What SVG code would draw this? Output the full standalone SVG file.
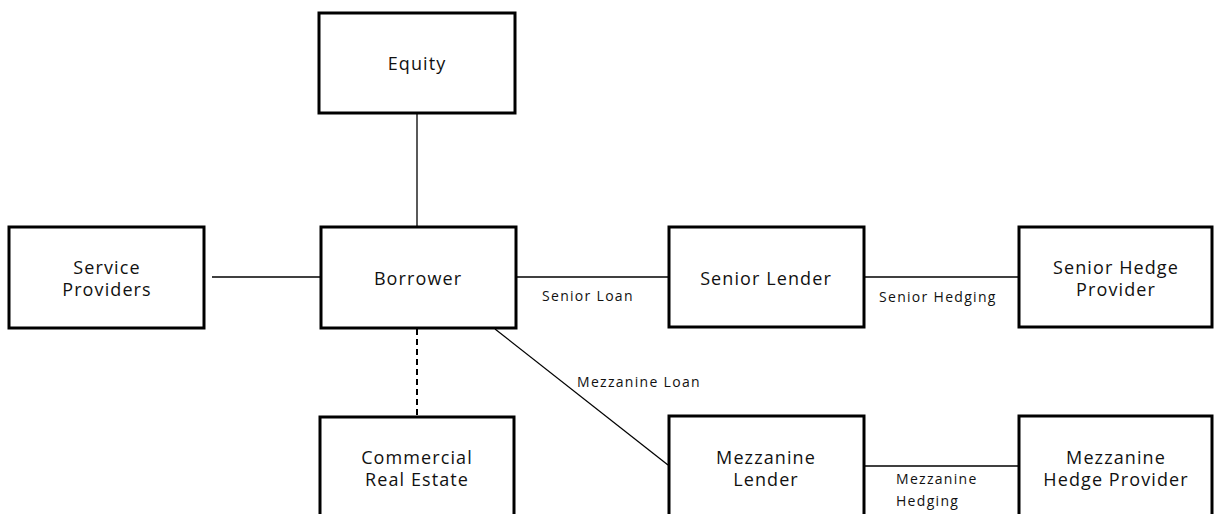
<svg xmlns="http://www.w3.org/2000/svg" width="1214" height="514" viewBox="0 0 1214 514">
<style>
.box{fill:#fff;stroke:#000;stroke-width:3}
.t{font-family:"Open Sans","Liberation Sans",sans-serif;font-size:18px;letter-spacing:1.1px;text-anchor:middle;fill:#111}
.l{font-family:"Open Sans","Liberation Sans",sans-serif;font-size:14px;letter-spacing:1.3px;fill:#111}
.c{stroke:#000;stroke-width:1.3;fill:none}
.d{stroke-dasharray:6,4;stroke-width:2}
</style>
<rect width="1214" height="514" fill="#fff"/>
<g id="connectors">
<line class="c" x1="417" y1="113" x2="417" y2="227"/>
<line class="c" x1="212" y1="277" x2="320" y2="277"/>
<line class="c" x1="516" y1="277" x2="669" y2="277"/>
<line class="c" x1="864" y1="277" x2="1019" y2="277"/>
<line class="c d" x1="417" y1="329" x2="417" y2="416"/>
<line class="c" x1="495" y1="329" x2="668" y2="465"/>
<line class="c" x1="865" y1="466" x2="1019" y2="466"/>
<text class="l" x="542" y="301">Senior Loan</text>
<text class="l" x="879" y="302">Senior Hedging</text>
<text class="l" x="577" y="387">Mezzanine Loan</text>
<text class="l" x="896" y="484">Mezzanine</text>
<text class="l" x="896" y="506">Hedging</text>
</g>
<g id="equity"><rect class="box" x="319" y="13" width="196" height="100"/><text class="t" x="417" y="70">Equity</text></g>
<g id="service-providers"><rect class="box" x="9" y="227" width="195" height="101"/><text class="t" x="107" y="274">Service</text><text class="t" x="107" y="296">Providers</text></g>
<g id="borrower"><rect class="box" x="321" y="227" width="195" height="101"/><text class="t" x="418" y="285">Borrower</text></g>
<g id="senior-lender"><rect class="box" x="669" y="227" width="195" height="100"/><text class="t" x="766" y="285">Senior Lender</text></g>
<g id="senior-hedge-provider"><rect class="box" x="1019" y="227" width="193" height="100"/><text class="t" x="1116" y="274">Senior Hedge</text><text class="t" x="1116" y="296">Provider</text></g>
<g id="commercial-real-estate"><rect class="box" x="320" y="417" width="194" height="110"/><text class="t" x="417" y="464">Commercial</text><text class="t" x="417" y="486">Real Estate</text></g>
<g id="mezzanine-lender"><rect class="box" x="669" y="416" width="195" height="110"/><text class="t" x="766" y="464">Mezzanine</text><text class="t" x="766" y="486">Lender</text></g>
<g id="mezzanine-hedge-provider"><rect class="box" x="1019" y="416" width="193" height="110"/><text class="t" x="1116" y="464">Mezzanine</text><text class="t" x="1116" y="486">Hedge Provider</text></g>
</svg>
